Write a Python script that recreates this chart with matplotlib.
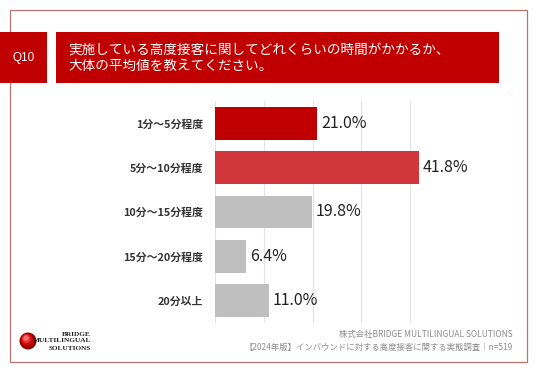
import matplotlib.pyplot as plt
from matplotlib.patches import Rectangle, Circle
import numpy as np

plt.rcParams['font.family'] = ['Noto Sans CJK JP', 'DejaVu Sans']

categories = ['1分～5分程度', '5分～10分程度', '10分～15分程度', '15分～20分程度', '20分以上']
values = [21.0, 41.8, 19.8, 6.4, 11.0]
colors = ['#C00000', '#D0363A', '#BFBFBF', '#BFBFBF', '#BFBFBF']
question = 'Q10'
title = '実施している高度接客に関してどれくらいの時間がかかるか、\n大体の平均値を教えてください。'
footer1 = '株式会社BRIDGE MULTILINGUAL SOLUTIONS'
footer2 = '【2024年版】インバウンドに対する高度接客に関する実態調査｜n=519'

W, H = 536, 371
fig = plt.figure(figsize=(W / 100, H / 100), dpi=100)


def px(x, y):
    return x / W, 1 - y / H


# outer frame
fig.patches.append(Rectangle(px(10, 362), 517 / W, 352 / H, transform=fig.transFigure,
                             fill=False, edgecolor='#B97373', lw=0.9))
# header boxes
fig.patches.append(Rectangle(px(0, 83), 47 / W, 51 / H, transform=fig.transFigure,
                             facecolor='#C00000', edgecolor='none'))
fig.patches.append(Rectangle(px(56, 83), 443 / W, 51 / H, transform=fig.transFigure,
                             facecolor='#C00000', edgecolor='none'))
fig.text(*px(23.5, 58), question, color='white', fontsize=8.5, ha='center', va='center',
         family=['Liberation Sans', 'DejaVu Sans'])
fig.text(*px(68, 58), title, color='white', fontsize=9.8, ha='left', va='center', linespacing=1.1)

# bars
ax = fig.add_axes([215 / W, 1 - 323 / H, 244 / W, 222 / H])
y = np.arange(len(categories))
ax.barh(y, values, height=0.74, color=colors)
for yi, v in zip(y, values):
    ax.text(v + 0.8, yi, f'{v:.1f}%', va='center', ha='left', fontsize=11.5, color='#222222')
ax.set_ylim(len(categories) - 0.5, -0.5)
ax.set_xlim(0, 50)
ax.set_xticks(np.arange(0, 51, 10))
ax.xaxis.grid(True, color='#E3E3E3', lw=0.8)
ax.set_axisbelow(True)
ax.set_yticks(y)
ax.set_yticklabels(categories, fontsize=7.8, color='#333333', fontweight='bold')
ax.tick_params(axis='y', length=0, pad=8.5)
ax.tick_params(axis='x', length=0, labelbottom=False)
for s in ax.spines.values():
    s.set_visible(False)

# footer
fig.text(*px(513, 335), footer1, color='#8C8C8C', fontsize=6, ha='right', va='center')
fig.text(*px(513, 347), footer2, color='#8C8C8C', fontsize=6, ha='right', va='center')

# logo (circle drawn in inches so it stays round)
cx, cy, r = 0.28, (H - 341) / 100, 0.085
for k, c in enumerate(['#8B0000', '#B00000', '#D01010', '#E83030', '#F47070']):
    f = 1 - k * 0.17
    fig.patches.append(Circle((cx - (1 - f) * r * 0.35, cy + (1 - f) * r * 0.5), r * f,
                              transform=fig.dpi_scale_trans, facecolor=c, edgecolor='none'))
for t, yy in zip(['BRIDGE', 'MULTILINGUAL', 'SOLUTIONS'], [334, 341, 348]):
    fig.text(*px(91, yy), t, color='#222222', fontsize=5.2, ha='right', va='center',
             fontweight='bold', family=['Liberation Serif', 'DejaVu Serif'])

fig.savefig('out.png', dpi=100)
